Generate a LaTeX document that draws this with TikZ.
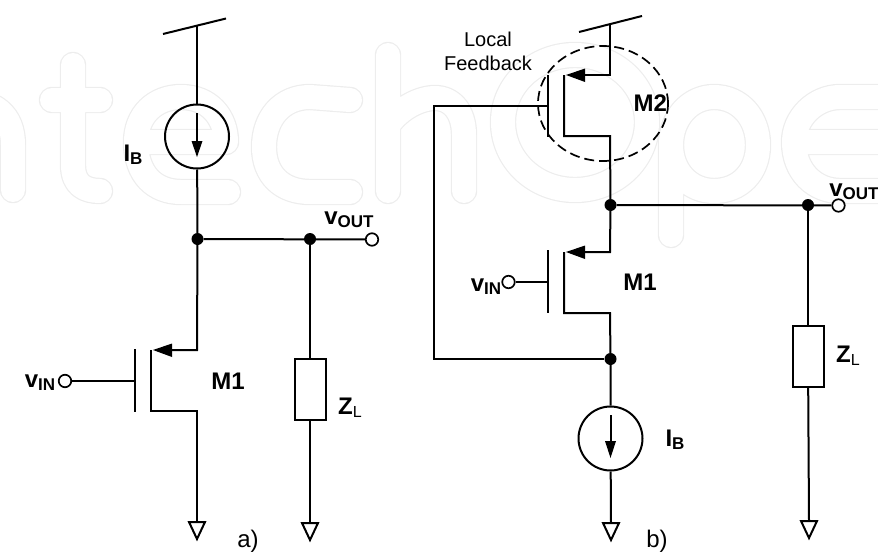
\documentclass[tikz,border=0pt]{standalone}
\usepackage{fontspec}
\setmainfont{Liberation Sans}
\newcommand{\subl}[1]{\raisebox{-3pt}{\fontsize{17pt}{19pt}\selectfont #1}}
\newcommand{\subt}[1]{\raisebox{-3pt}{\fontsize{16pt}{19pt}\mdseries\selectfont #1}}
\begin{document}
\begin{tikzpicture}[x=1pt,y=-1pt,
  wire/.style={line width=2pt,line join=miter},
  dotn/.style={circle,fill=black,inner sep=0pt,minimum size=12pt},
  port/.style={circle,draw=black,fill=white,line width=1.7pt,inner sep=0pt,minimum size=12.5pt},
  source/.style={circle,draw=black,line width=2pt,inner sep=0pt,minimum size=64pt},
  load/.style={rectangle,draw=black,line width=2pt,inner sep=0pt,minimum width=31pt,minimum height=61pt},
  gnd/.style={line width=2pt,line join=miter},
  head/.style={fill=black,draw=none},
  lab/.style={font=\bfseries\fontsize{24pt}{26pt}\selectfont,inner sep=0pt},
  thin label/.style={font=\fontsize{20pt}{24pt}\selectfont,inner sep=0pt,align=center},
  water/.style={draw=black!7,line width=1.2pt,double=white,double distance=24pt,line cap=round,line join=round}]
\useasboundingbox (0,0) rectangle (878,554);
% faint watermark
\draw[water]
  (-40,100) ..controls (-5,100) and (13,115) .. (13,145) -- (13,190)
  (73,65) -- (73,165) ..controls (73,185) and (85,191) .. (100,191) (52,100) -- (100,100);
\draw[water] (226,142) -- (136,142) ..controls (136,115) and (155,97) .. (181,97)
  ..controls (210,97) and (226,118) .. (226,142)
  (136,142) ..controls (136,175) and (155,192) .. (181,192) -- (228,192);
\draw[water] (350,100) -- (310,97) ..controls (282,97) and (264,118) .. (264,147)
  ..controls (264,175) and (282,192) .. (310,192) -- (350,192);
\draw[water] (388,55) -- (388,191)
  (388,125) ..controls (400,108) and (420,98) .. (435,98) ..controls (452,98) and (464,112) .. (464,135) -- (464,191);
\draw[water] (575,55) ..controls (535,55) and (503,85) .. (503,122) ..controls (503,160) and (535,190) .. (575,190)
  ..controls (615,190) and (647,160) .. (647,122) ..controls (647,85) and (615,55) .. (575,55);
\draw[water] (671,235) -- (671,145) ..controls (671,118) and (690,97) .. (714,97)
  ..controls (740,97) and (758,118) .. (758,145) ..controls (758,172) and (740,191) .. (714,191) ..controls (690,191) and (671,172) .. (671,145);
\draw[water] (885,142) -- (794,142) ..controls (794,118) and (815,97) .. (840,97) -- (895,97)
  (794,142) ..controls (794,172) and (815,191) .. (840,191) -- (895,191);
% ---------- circuit a
\coordinate (a vdd) at (197,25);
\coordinate (a vl) at (163,34);
\coordinate (a vr) at (226,18.5);
\node[source] (a src) at (197,136.5) {};
\node[dotn] (a top) at (197.5,239) {};
\node[dotn] (a load top) at (310,239) {};
\node[port] (a out) at (372,239.5) {};
\node[load] (a z) at (310,389) {};
\node[port] (a in) at (65,381) {};
\coordinate (a gate) at (135,381);
\coordinate (a gt) at (135,349);
\coordinate (a gb) at (135,412);
\coordinate (a ct) at (151,350);
\coordinate (a cb) at (151,411);
\coordinate (a s) at (197,350);
\coordinate (a d) at (197,411);
\coordinate (a g1) at (197,522);
\coordinate (a g2) at (310,522);
\draw[wire] (a vl) -- (a vr);
\draw[wire] (a vdd) -- (a src);
\draw[wire] (a src) -- (a top) -- (a s) -- (164,350);
\draw[wire] (a top) -- (a out);
\draw[wire] (a load top) -- (a z);
\draw[wire] (a z) -- (a g2);
\draw[wire] (a in) -- (a gate);
\draw[wire] (a gt) -- (a gb);
\draw[wire] (a ct) -- (a cb) -- (a d) -- (a g1);
\fill[head] (153,350) -- (172,343.5) -- (172,357) -- cycle;
\draw[gnd] (189,522) -- (205,522) -- (197,539) -- cycle;
\draw[gnd] (302,523) -- (318,523) -- (310,540) -- cycle;
\draw[wire] (197,113) -- (197,145);
\fill[head] (191.5,141) -- (202.5,141) -- (197,157) -- cycle;
\node[lab] (a lb) at (133,155) {I\subl{B}};
\node[lab] (a lo) at (349,220) {v\subl{OUT}};
\node[lab] (a li) at (40,383) {v\subl{IN}};
\node[lab] (a lm) at (228,381) {M1};
\node[lab] (a lz) at (350,408) {Z\subt{L}};
\node[thin label,font=\fontsize{24pt}{26pt}\selectfont] (a cap) at (248,541) {a)};
% ---------- circuit b
\coordinate (b vdd) at (610,24);
\coordinate (b vl) at (579,32);
\coordinate (b vr) at (642,16);
\coordinate (b s2) at (610,75);
\coordinate (b d2) at (610,136);
\coordinate (b g2) at (548,106);
\coordinate (b gt2) at (548,75);
\coordinate (b gb2) at (548,137);
\coordinate (b ct2) at (564,75);
\coordinate (b cb2) at (564,136);
\node[dotn] (b mid) at (610.5,205) {};
\node[dotn] (b load top) at (808,205) {};
\node[port] (b out) at (838.5,205.5) {};
\coordinate (b s1) at (610,252);
\coordinate (b d1) at (610,313);
\coordinate (b gt1) at (548,250);
\coordinate (b gb1) at (548,313);
\coordinate (b ct1) at (564,252);
\coordinate (b cb1) at (564,313);
\coordinate (b g1) at (548,282);
\node[port] (b in) at (508.5,282) {};
\node[dotn] (b fb) at (610.5,359) {};
\coordinate (b fbl) at (434,359);
\coordinate (b fbt) at (434,106);
\node[source] (b src) at (610.5,438.5) {};
\coordinate (b gnd) at (611,523);
\node[load] (b z) at (808,356) {};
\coordinate (b gnd2) at (809,521);
\draw[wire] (b vl) -- (b vr);
\draw[wire] (b vdd) -- (b s2) -- (575,75);
\draw[wire] (b ct2) -- (b cb2) -- (b d2) -- (b mid) -- (b s1) -- (577,252);
\draw[wire] (b gt2) -- (b gb2);
\draw[wire] (b g2) -- (b fbt) -- (b fbl) -- (b fb);
\draw[wire] (b mid) -- (b out);
\draw[wire] (b load top) -- (b z);
\draw[wire] (b z) -- (b gnd2);
\draw[wire] (b in) -- (b g1);
\draw[wire] (b gt1) -- (b gb1);
\draw[wire] (b ct1) -- (b cb1) -- (b d1) -- (b fb) -- (b src);
\draw[wire] (b src) -- (b gnd);
\fill[head] (566,75) -- (585,68.5) -- (585,82) -- cycle;
\fill[head] (566,252) -- (585,245.5) -- (585,259) -- cycle;
\draw[gnd] (603,523) -- (619,523) -- (611,540) -- cycle;
\draw[gnd] (801,521) -- (817,521) -- (809,538) -- cycle;
\draw[wire] (610.5,415) -- (610.5,445);
\fill[head] (605,441) -- (616,441) -- (610.5,458) -- cycle;
\draw[line width=1.7pt,dash pattern=on 10pt off 5pt] (603,103.5) ellipse (65pt and 57.5pt);
\node[lab] (b m2) at (651,103) {M2\rule[-1pt]{1.4pt}{18pt}};
\node[lab] (b m1) at (640,282) {M1};
\node[lab] (b li) at (486,287) {v\subl{IN}};
\node[lab] (b lo) at (854,192) {v\subl{OUT}};
\node[lab] (b lz) at (848,356) {Z\subt{L}};
\node[lab] (b lb) at (675,440) {I\subl{B}};
\node[thin label] (b lf) at (488,51) {Local\\Feedback};
\node[thin label,font=\fontsize{24pt}{26pt}\selectfont] (b cap) at (657,541) {b)};
\end{tikzpicture}
\end{document}
